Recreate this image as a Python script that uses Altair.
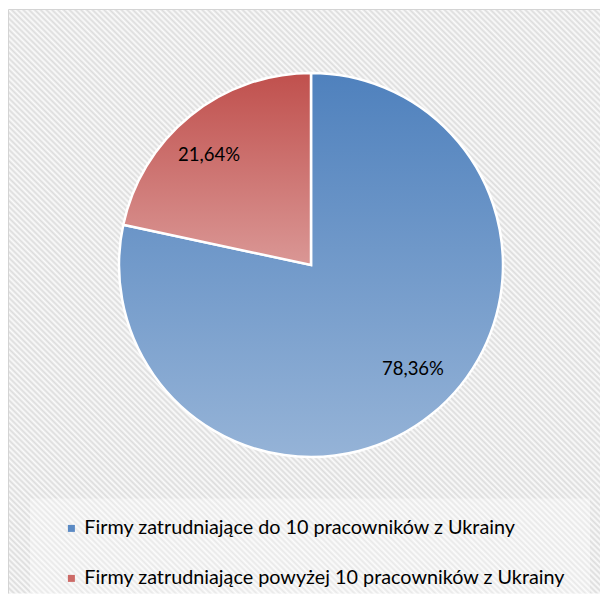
import altair as alt
import pandas as pd

# ---- data ----
categories = [
    "Firmy zatrudniające do 10 pracowników z Ukrainy",
    "Firmy zatrudniające powyżej 10 pracowników z Ukrainy",
]
shares = [78.36, 21.64]
slice_order = [1, 2]

# ---- style ----
colors_top = ["#4F81BD", "#C0504D"]
colors_bottom = ["#95B3D7", "#DA9795"]
legend_colors = ["#5B8AC4", "#CC6A67"]

W, H = 591.5, 584
CX, CY = 302.5, 255.5
R = 192
LABEL_R = 148

df = pd.DataFrame({"category": categories, "share": shares, "order": slice_order})


def vgrad(top, bottom):
    return {
        "gradient": "linear",
        "stops": [{"offset": 0, "color": top}, {"offset": 1, "color": bottom}],
        "x1": 0, "x2": 0, "y1": 0, "y2": 1,
    }


# diagonal hatch background (style only)
n_stripes = 205
hatch_stops = []
for k in range(n_stripes):
    hatch_stops.append({"offset": k / n_stripes, "color": "#dcdcdc"})
    hatch_stops.append({"offset": (k + 0.5) / n_stripes, "color": "#fbfbfb"})
hatch_stops.append({"offset": 1, "color": "#dcdcdc"})
hatch = {"gradient": "linear", "stops": hatch_stops, "x1": 0, "y1": 1, "x2": 1, "y2": 0}

one = pd.DataFrame({"k": [0]})
bg = alt.Chart(one).mark_rect(fill=hatch).encode(
    x=alt.value(0), x2=alt.value(W), y=alt.value(0), y2=alt.value(H)
)
legend_box = alt.Chart(one).mark_rect(fill="#ffffff", opacity=0.35).encode(
    x=alt.value(21.5), x2=alt.value(581.5), y=alt.value(489), y2=alt.value(H)
)
border_left = alt.Chart(one).mark_rule(color="#d4d4d4", strokeWidth=1).encode(
    x=alt.value(0), y=alt.value(0), y2=alt.value(H)
)
border_top = alt.Chart(one).mark_rule(color="#d4d4d4", strokeWidth=1).encode(
    y=alt.value(0), x=alt.value(0), x2=alt.value(W)
)

base = alt.Chart(df).encode(
    theta=alt.Theta("share:Q", stack=True),
    order=alt.Order("order:Q"),
    x=alt.value(CX),
    y=alt.value(CY),
)

legend_arc = base.mark_arc(radius=R).encode(
    color=alt.Color(
        "category:N",
        scale=alt.Scale(domain=categories, range=legend_colors),
        title=None,
        legend=alt.Legend(
            orient="none",
            legendX=53,
            legendY=509,
            labelFont="Lato",
            labelFontSize=19.8,
            labelColor="#000000",
            symbolType="square",
            symbolSize=49,
            symbolStrokeWidth=0,
            rowPadding=29,
            labelOffset=3,
            padding=0,
            labelLimit=0,
        ),
    )
)

grad_arc = base.mark_arc(radius=R, stroke="white", strokeWidth=2.5).encode(
    fill=alt.condition(
        alt.datum.category == categories[0],
        alt.value(vgrad(colors_top[0], colors_bottom[0])),
        alt.value(vgrad(colors_top[1], colors_bottom[1])),
    ),
    detail="category:N",
)

labels = base.transform_calculate(
    lbl="replace(format(datum.share, '.2f'), '.', ',') + '%'"
).mark_text(
    radius=LABEL_R, thetaOffset=-0.08, dy=-3, font="Lato", fontSize=18.5, color="#000000"
).encode(text="lbl:N", detail="category:N")

chart = (
    alt.layer(bg, legend_box, border_left, border_top, legend_arc, grad_arc, labels)
    .properties(
        width=W,
        height=H,
        autosize="none",
        padding={"left": 0.5, "top": 1.5, "right": 0, "bottom": 0},
        background="white",
    )
    .configure_view(strokeWidth=0)
)

chart.save("out.html", embed_options={"renderer": "svg", "actions": False})
